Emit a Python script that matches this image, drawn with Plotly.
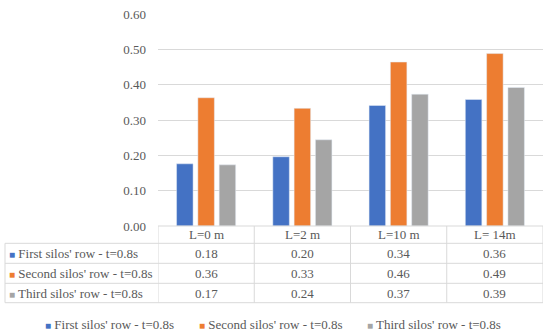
import plotly.graph_objects as go

categories = ["L=0 m", "L=2 m", "L=10 m", "L= 14m"]
series_names = ["First silos' row - t=0.8s", "Second silos' row - t=0.8s", "Third silos' row - t=0.8s"]
first_row = [0.176, 0.196, 0.341, 0.358]
second_row = [0.363, 0.333, 0.464, 0.488]
third_row = [0.173, 0.244, 0.373, 0.392]
y_ticks = [0.0, 0.1, 0.2, 0.3, 0.4, 0.5, 0.6]

series_values = [first_row, second_row, third_row]
colors = ["#4472C4", "#ED7D31", "#A5A5A5"]
TXT = "#595959"
GRID = "#D9D9D9"
FONT = "Liberation Serif"

W, H = 550, 333
ML, MR, MT, MB = 158, 7, 14, 107
PW = W - ML - MR
PH = H - MT - MB


def py(ypx):
    return (H - MB - ypx) / PH


def px(xpx):
    return (xpx - ML) / PW


fig = go.Figure()
for name, vals, c in zip(series_names, series_values, colors):
    fig.add_trace(go.Bar(x=categories, y=vals, name=name, marker_color=c,
                         showlegend=False))

shapes = []
annotations = []
row_edges = [226, 243.3, 263.3, 283.3, 302.7]
left_px = 5
line = dict(color=GRID, width=1)

# horizontal lines
for ye in row_edges[1:]:
    shapes.append(dict(type="line", xref="paper", yref="paper", x0=px(left_px), x1=1,
                       y0=py(ye), y1=py(ye), line=line))
shapes.append(dict(type="line", xref="paper", yref="paper", x0=0, x1=1,
                   y0=0, y1=0, line=line))
# vertical lines
for i in range(len(categories) + 1):
    shapes.append(dict(type="line", xref="x", yref="paper", x0=i - 0.5, x1=i - 0.5,
                       y0=py(row_edges[0]), y1=py(row_edges[-1]), line=line))
shapes.append(dict(type="line", xref="paper", yref="paper", x0=px(left_px), x1=px(left_px),
                   y0=py(row_edges[1]), y1=py(row_edges[-1]), line=line))

font = dict(family=FONT, size=13, color=TXT)
# header
for i, cat in enumerate(categories):
    annotations.append(dict(xref="x", yref="paper", x=i,
                            y=py((row_edges[0] + row_edges[1]) / 2),
                            text=cat, showarrow=False, xanchor="center", yanchor="middle",
                            font=font))
# rows
for r, (name, vals, c) in enumerate(zip(series_names, series_values, colors)):
    yc = py((row_edges[r + 1] + row_edges[r + 2]) / 2)
    annotations.append(dict(xref="paper", yref="paper", x=px(7), y=yc,
                            text=f"<span style='font-size:10px;color:{c}'>■</span> {name}",
                            showarrow=False, xanchor="left", yanchor="middle",
                            font=font))
    for i, v in enumerate(vals):
        annotations.append(dict(xref="x", yref="paper", x=i, y=yc,
                                text=f"{v:.2f}", showarrow=False,
                                xanchor="center", yanchor="middle",
                                font=font))

# legend (manual, Excel-style)
legend_x = [43, 197, 365]
for name, c, lx in zip(series_names, colors, legend_x):
    annotations.append(dict(xref="paper", yref="paper", x=px(lx), y=py(324),
                            text=f"<span style='font-size:10px;color:{c}'>■</span> {name}",
                            showarrow=False, xanchor="left", yanchor="middle",
                            font=font))

fig.update_layout(
    width=W, height=H, autosize=False,
    margin=dict(l=ML, r=MR, t=MT, b=MB, pad=0),
    paper_bgcolor="white", plot_bgcolor="white",
    barmode="group", bargap=0.336, bargroupgap=0.225,
    font=font,
    shapes=shapes, annotations=annotations,
    showlegend=False,
    xaxis=dict(type="category", categoryorder="array", categoryarray=categories,
               range=[-0.5, len(categories) - 0.5],
               showticklabels=False, showgrid=False, zeroline=False, showline=False,
               ticks=""),
    yaxis=dict(range=[0, 0.6], tickvals=y_ticks, tickformat=".2f",
               showgrid=True, gridcolor=GRID, gridwidth=1, zeroline=False,
               showline=False, ticks="", ticklabelstandoff=11,
               tickfont=font),
)

fig.write_html("out.html", config={"displayModeBar": False},
               post_script="document.body.style.margin='0px';document.body.style.overflow='hidden';")
